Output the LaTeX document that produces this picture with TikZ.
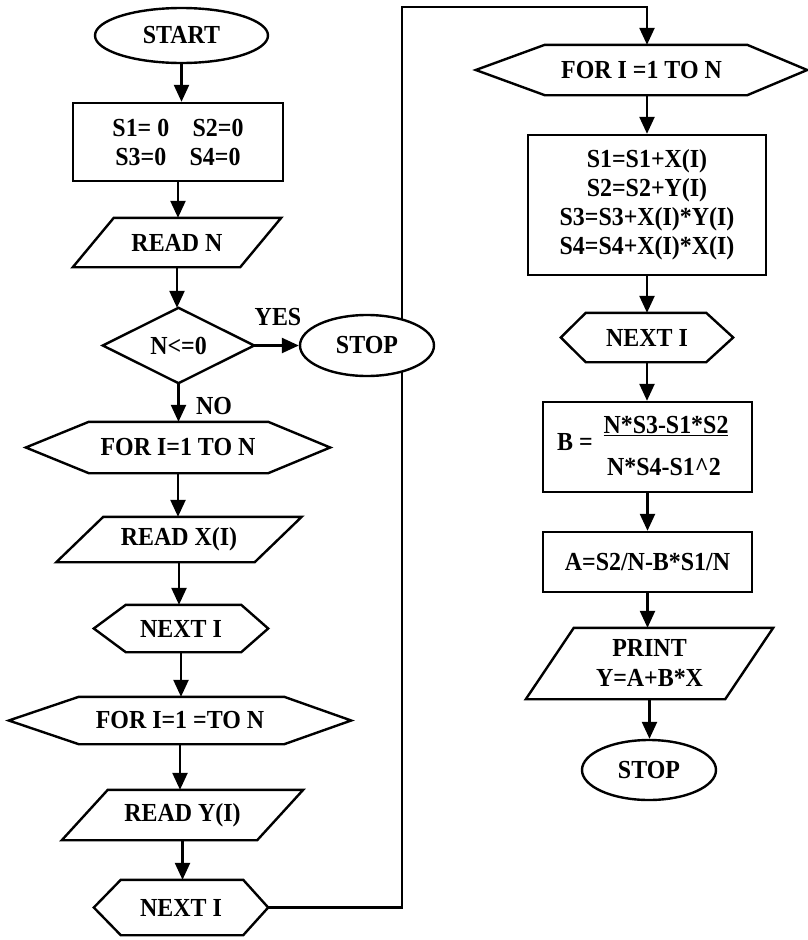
\documentclass[tikz,border=0pt]{standalone}
\usepackage{fontspec}
\setmainfont{Liberation Serif}[FakeStretch=0.92]
\usetikzlibrary{arrows.meta,shapes.geometric}
\newcommand\hexshape[3]{\draw[outl] (#1.west) -- ([xshift=#2]#1.north west) -- ([xshift=-#3]#1.north east) -- (#1.east) -- ([xshift=-#3]#1.south east) -- ([xshift=#2]#1.south west) -- cycle;}
\newcommand\parashape[2]{\draw[outl] ([xshift=#2]#1.north west) -- (#1.north east) -- ([xshift=-#2]#1.south east) -- (#1.south west) -- cycle;}
\begin{document}
\begin{tikzpicture}[x=1pt,y=-1pt,
  every node/.style={font=\fontsize{26}{29}\selectfont\bfseries, inner sep=0pt},
  outl/.style={line width=2.4pt, line join=miter},
  box/.style={draw, rectangle, line width=2.4pt, align=center},
  term/.style={draw, ellipse, line width=2.4pt, fill=white},
  frame/.style={rectangle, draw=none},
  lbl/.style={draw=none},
  arr/.style={line width=2.4pt, -{Triangle[length=17pt,width=15pt]}}]
\fill[white] (0,0) rectangle (808,940);
\path[use as bounding box] (0,0) rectangle (808,940);

% left column
\node[term, minimum width=173pt, minimum height=55pt] (start) at (181.5,35.5) {START};
\node[box, minimum width=210pt, minimum height=78pt] (init) at (178,142) {S1= 0\hspace{0.9em}S2=0\\S3=0\hspace{0.9em}S4=0};
\node[frame, minimum width=208pt, minimum height=49pt] (readn) at (177,242.5) {READ N};
\parashape{readn}{41pt}
\node[frame, minimum width=151pt, minimum height=75pt] (dec) at (178.5,345.5) {N<=0};
\draw[outl] (dec.west) -- (dec.north) -- (dec.east) -- (dec.south) -- cycle;
\node[frame, minimum width=304pt, minimum height=51pt] (for1) at (178,447.5) {FOR I=1 TO N};
\hexshape{for1}{63pt}{62pt}
\node[frame, minimum width=245pt, minimum height=45pt] (readx) at (179,539.5) {READ X(I)};
\parashape{readx}{47pt}
\node[frame, minimum width=174pt, minimum height=47pt] (next1) at (181,628.5) {NEXT I};
\hexshape{next1}{32pt}{27pt}
\node[frame, minimum width=342pt, minimum height=47pt] (for2) at (180,720.5) {FOR I=1 =TO N};
\hexshape{for2}{70pt}{67pt}
\node[frame, minimum width=241pt, minimum height=50pt] (ready) at (182.5,815) {READ Y(I)};
\parashape{ready}{46pt}
\node[frame, minimum width=174pt, minimum height=55pt] (next2) at (181,907.5) {NEXT I};
\hexshape{next2}{27pt}{25pt}

% right column
\node[frame, minimum width=331pt, minimum height=50pt] (for3) at (641.5,70) {FOR I =1 TO N};
\hexshape{for3}{69pt}{60pt}
\node[box, minimum width=238pt, minimum height=140pt] (upd) at (647,205) {S1=S1+X(I)\\S2=S2+Y(I)\\S3=S3+X(I)*Y(I)\\S4=S4+X(I)*X(I)};
\node[frame, minimum width=172pt, minimum height=49pt] (next3) at (647,337.5) {NEXT I};
\hexshape{next3}{25pt}{27pt}
\node[box, minimum width=209pt, minimum height=90pt] (bcalc) at (647.5,447) {};
\node[lbl] (bl) at (575,442) {B =};
\node[lbl] (bnum) at (666,426) {\underline{N*S3-S1*S2}};
\node[lbl] (bden) at (664,467) {N*S4-S1\textasciicircum 2};
\node[box, minimum width=209pt, minimum height=60pt] (abox) at (647.5,562) {A=S2/N-B*S1/N};
\node[frame, minimum width=247pt, minimum height=71pt, align=center, font=\fontsize{26}{30}\selectfont\bfseries] (print) at (649.5,663.5) {PRINT\\Y=A+B*X};
\parashape{print}{48pt}
\node[term, minimum width=134pt, minimum height=60pt] (stopb) at (649,770) {STOP};

% loop connector
\coordinate (lc) at (402,7);
\draw[arr] (next2.east) -| (lc) -| (upd.north |- for3.north);

\node[term, minimum width=134pt, minimum height=61pt] (stopa) at (367,345.5) {STOP};

% arrows left column
\draw[arr] (start.south) -- (start.south |- init.north);
\draw[arr] (init.south) -- (init.south |- readn.north);
\draw[arr] (readn.south) -- (readn.south |- dec.north);
\draw[arr] (dec.east) -- (stopa.west);
\draw[arr] (dec.south) -- (dec.south |- for1.north);
\draw[arr] (for1.south) -- (for1.south |- readx.north);
\draw[arr] (readx.south) -- (readx.south |- next1.north);
\draw[arr] (next1.south) -- (next1.south |- for2.north);
\draw[arr] (for2.south) -- (for2.south |- ready.north);
\draw[arr] (ready.south) -- (ready.south |- next2.north);

% arrows right column
\draw[arr] (upd.north |- for3.south) -- (upd.north);
\draw[arr] (upd.south) -- (upd.south |- next3.north);
\draw[arr] (next3.south) -- (next3.south |- bcalc.north);
\draw[arr] (bcalc.south) -- (bcalc.south |- abox.north);
\draw[arr] (abox.south) -- (abox.south |- print.north);
\draw[arr] (print.south) -- (print.south |- stopb.north);

% labels
\node[lbl] (yes) at (278,317) {YES};
\node[lbl] (no) at (214,406) {NO};
\end{tikzpicture}
\end{document}
